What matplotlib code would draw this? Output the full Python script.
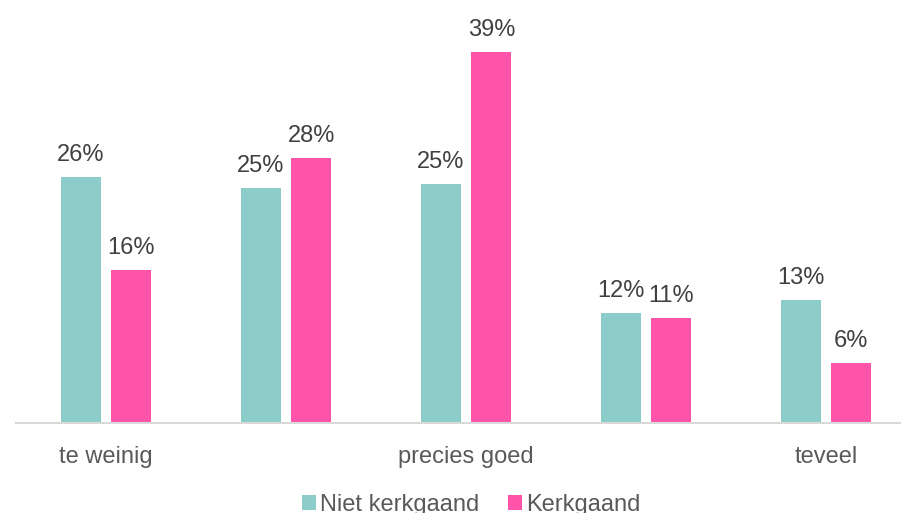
import matplotlib.pyplot as plt
import numpy as np

plt.rcParams['font.family'] = ['Liberation Sans', 'DejaVu Sans']

categories = ['te weinig', '', 'precies goed', '', 'teveel']
niet_kerkgaand = [25.8, 24.7, 25.1, 11.5, 12.9]
kerkgaand = [16.0, 27.8, 38.96, 11.0, 6.3]
niet_labels = ['26%', '25%', '25%', '12%', '13%']
kerk_labels = ['16%', '28%', '39%', '11%', '6%']

teal = '#8CCDCA'
pink = '#FF54A9'

fig = plt.figure(figsize=(9.01, 5.13), dpi=100)
ax = fig.add_axes([16 / 901, 90.5 / 513, 885 / 901, 422.5 / 513])

x = np.arange(len(categories))
w = 0.222
off = 0.141
b1 = ax.bar(x - off, niet_kerkgaand, w, color=teal, label='Niet kerkgaand')
b2 = ax.bar(x + off, kerkgaand, w, color=pink, label='Kerkgaand')

for bars, labs in [(b1, niet_labels), (b2, kerk_labels)]:
    for rect, lab in zip(bars, labs):
        ax.annotate(lab, (rect.get_x() + rect.get_width() / 2, rect.get_height()),
                    xytext=(0, 11.5), textcoords='offset points',
                    ha='center', va='baseline', fontsize=17, color='#404040')

ax.set_xlim(-0.5, -0.5 + 885 / 180)
ax.set_ylim(0, 422.5 / 9.51)
ax.set_xticks(x)
ax.set_xticklabels(categories, fontsize=17, color='#595959')
ax.tick_params(axis='x', length=0, pad=17)
ax.set_yticks([])
for s in ['top', 'right', 'left']:
    ax.spines[s].set_visible(False)
ax.spines['bottom'].set_color('#D9D9D9')
ax.spines['bottom'].set_linewidth(1.5)

fig.legend(loc='upper center', bbox_to_anchor=(0.523, 0.06), ncol=2, frameon=False,
           fontsize=17, handlelength=0.6, handleheight=0.6, handletextpad=0.17,
           columnspacing=1.2, borderpad=0, labelcolor='#595959')

fig.savefig('out.png', dpi=100)
